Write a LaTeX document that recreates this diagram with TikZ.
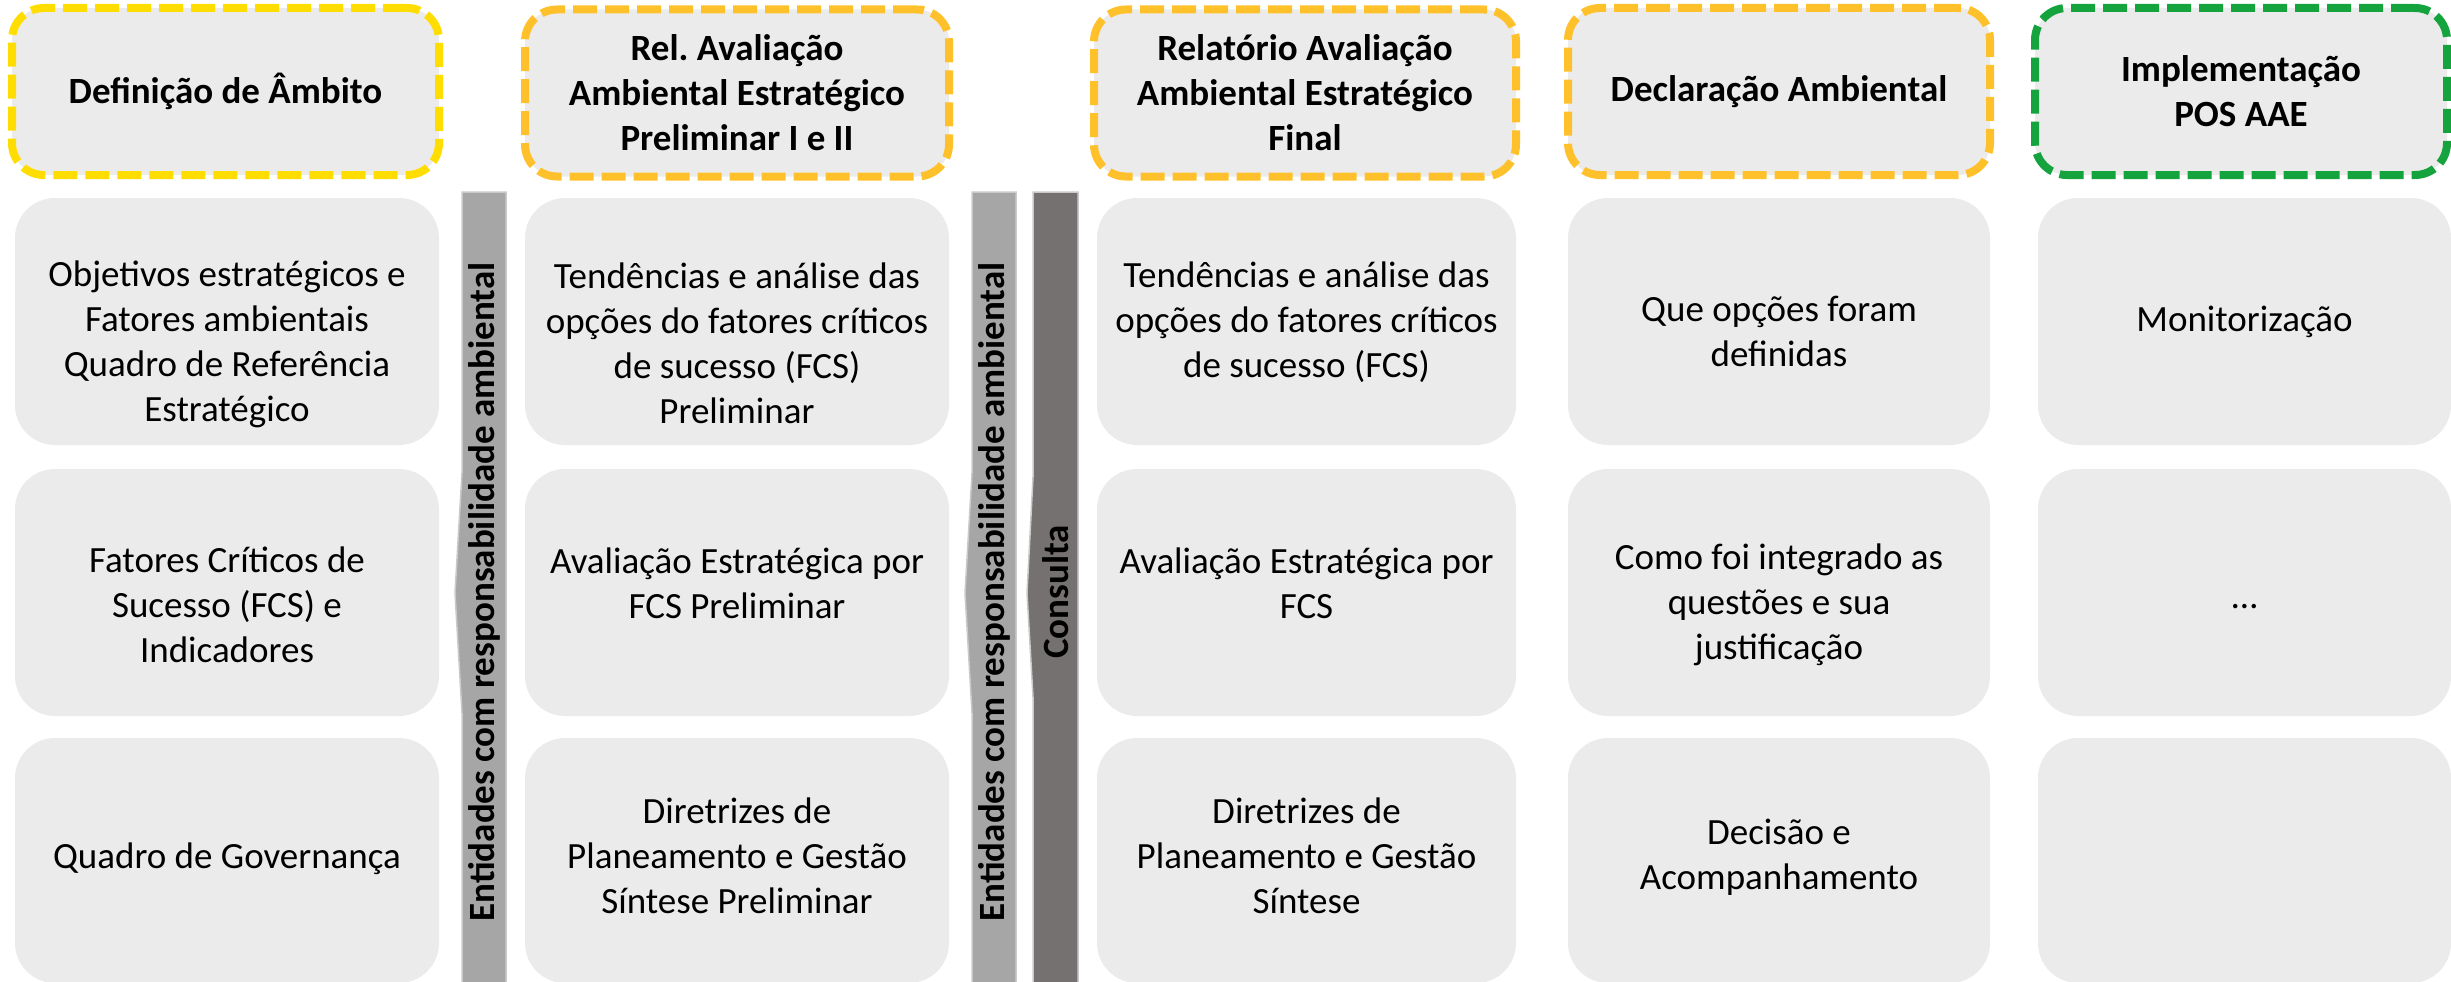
\documentclass[tikz,border=0pt]{standalone}
\usepackage{fontspec}
\setmainfont{Carlito}
\frenchspacing
\definecolor{boxgray}{HTML}{EBEBEB}
\definecolor{hdryellow}{HTML}{FFDD00}
\definecolor{hdrorange}{HTML}{FFC12B}
\definecolor{hdrgreen}{HTML}{15A33E}
\definecolor{barlight}{HTML}{A6A6A6}
\definecolor{bardark}{HTML}{767171}
\definecolor{baredge}{HTML}{CACACA}
\begin{document}
\begin{tikzpicture}[x=1pt,y=-1pt,
  hdr/.style={draw=#1, fill=boxgray, line width=8pt, dash pattern=on 24pt off 8pt,
    rounded corners=32pt, align=center, inner sep=0pt,
    font=\fontsize{37}{45}\selectfont\bfseries},
  cell/.style={fill=boxgray, rounded corners=40pt, inner sep=0pt},
  txt/.style={align=center, font=\fontsize{37}{45}\selectfont, inner sep=0pt},
  barshape/.style={fill=#1, draw=baredge, line width=1.5pt},
  bartxt/.style={rotate=90, font=\fontsize{37}{45}\selectfont\bfseries, inner sep=0pt}
]
\useasboundingbox (0,0) rectangle (2451,982);

% header boxes
\node[hdr=hdryellow, minimum width=427pt, minimum height=167pt] (h1) at (225.5,91.5) {Definição de Âmbito};
\node[hdr=hdrorange, minimum width=424pt, minimum height=167pt] (h2) at (737,93) {Rel. Avaliação\\Ambiental Estratégico\\Preliminar I e II};
\node[hdr=hdrorange, minimum width=422pt, minimum height=167pt] (h3) at (1305,93) {Relatório Avaliação\\Ambiental Estratégico\\Final};
\node[hdr=hdrorange, minimum width=422pt, minimum height=167pt] (h4) at (1779,91.5) {Declaração Ambiental};
\node[hdr=hdrgreen, minimum width=412pt, minimum height=167pt] (h5) at (2241,91.5) {Implementação\\POS AAE};

% cells
\foreach \n/\cx/\w in {1/227/424, 2/737/424, 3/1306.5/419, 4/1779/422, 5/2244.5/413}{
  \node[cell, minimum width=\w pt, minimum height=247pt] (r1c\n) at (\cx,321.5) {};
  \node[cell, minimum width=\w pt, minimum height=247pt] (r2c\n) at (\cx,592.5) {};
  \node[cell, minimum width=\w pt, minimum height=245pt] (r3c\n) at (\cx,860.5) {};
}

% bars
\draw[barshape=barlight] (462,192) -- (506,192) -- (506,984) -- (462,984) -- (462,713) -- (455,593) -- (462,473) -- cycle;
\draw[barshape=barlight] (972,192) -- (1016,192) -- (1016,984) -- (972,984) -- (972,713) -- (965,593) -- (972,473) -- cycle;
\draw[barshape=bardark] (1033,192) -- (1078,192) -- (1078,984) -- (1033,984) -- (1033,697) -- (1027,593) -- (1033,477) -- cycle;
\node[bartxt] (e1) at (484,592) {Entidades com responsabilidade ambiental};
\node[bartxt] (e2) at (994,592) {Entidades com responsabilidade ambiental};
\node[bartxt] (cons) at (1056,592) {Consulta};

% row 1 texts
\node[txt] (t11) at (227,344) {Objetivos estratégicos e\\Fatores ambientais\\Quadro de Referência\\Estratégico};
\node[txt] (t12) at (737,343) {Tendências e análise das\\opções do fatores críticos\\de sucesso (FCS)\\Preliminar};
\node[txt] (t13) at (1306.5,322) {Tendências e análise das\\opções do fatores críticos\\de sucesso (FCS)};
\node[txt] (t14) at (1779,331) {Que opções foram\\definidas};
\node[txt] (t15) at (2244.5,322) {Monitorização};

% row 2 texts
\node[txt] (t21) at (227,605) {Fatores Críticos de\\Sucesso (FCS) e\\Indicadores};
\node[txt] (t22) at (737,583) {Avaliação Estratégica por\\FCS Preliminar};
\node[txt] (t23) at (1306.5,583) {Avaliação Estratégica por\\FCS};
\node[txt] (t24) at (1779,605) {Como foi integrado as\\questões e sua\\justificação};
\node[txt, anchor=base] (t25) at (2244.5,608) {…};

% row 3 texts
\node[txt] (t31) at (227,859) {Quadro de Governança};
\node[txt] (t32) at (737,856) {Diretrizes de\\Planeamento e Gestão\\Síntese Preliminar};
\node[txt] (t33) at (1306.5,856) {Diretrizes de\\Planeamento e Gestão\\Síntese};
\node[txt] (t34) at (1779,857) {Decisão e\\Acompanhamento};
\end{tikzpicture}
\end{document}
